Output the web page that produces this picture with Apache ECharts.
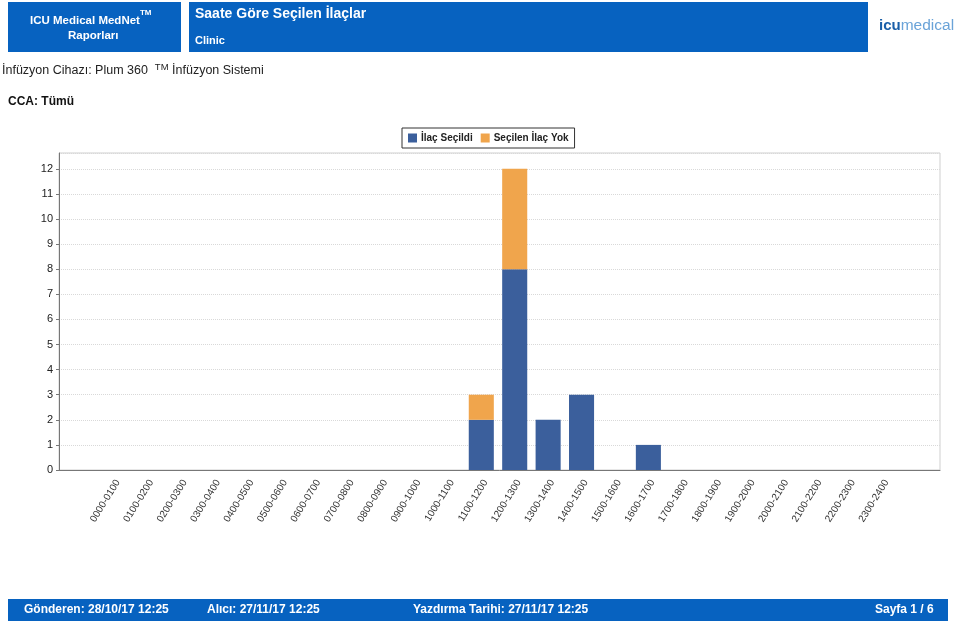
<!DOCTYPE html>
<html>
<head>
<meta charset="utf-8">
<title>Saate Göre Seçilen İlaçlar</title>
<script src="https://cdn.jsdelivr.net/npm/echarts@6/dist/echarts.min.js"></script>
<style>
  html, body { margin: 0; padding: 0; background: #ffffff; }
  #chart { width: 957px; height: 623px; }
</style>
</head>
<body>
<div id="chart"></div>
<script>
// Hourly slots of the report
const hours = [
  '0000-0100', '0100-0200', '0200-0300', '0300-0400', '0400-0500', '0500-0600',
  '0600-0700', '0700-0800', '0800-0900', '0900-1000', '1000-1100', '1100-1200',
  '1200-1300', '1300-1400', '1400-1500', '1500-1600', '1600-1700', '1700-1800',
  '1800-1900', '1900-2000', '2000-2100', '2100-2200', '2200-2300', '2300-2400'
];

// Infusions with a drug selected, per hour
const ilacSecildi = [0, 0, 0, 0, 0, 0, 0, 0, 0, 0, 0, 2, 8, 2, 3, 0, 1, 0, 0, 0, 0, 0, 0, 0];

// Infusions without a drug selected, per hour
const secilenIlacYok = [0, 0, 0, 0, 0, 0, 0, 0, 0, 0, 0, 1, 4, 0, 0, 0, 0, 0, 0, 0, 0, 0, 0, 0];

// Y axis tick values
const yTicks = [0, 1, 2, 3, 4, 5, 6, 7, 8, 9, 10, 11, 12];

const seriesNames = ['İlaç Seçildi', 'Seçilen İlaç Yok'];
const colors = ['#3b5f9c', '#f0a54c'];
const headerBlue = '#0762c0';

const yMax = 12.63;
const font = 'Arial, "Liberation Sans", sans-serif';

const chart = echarts.init(document.getElementById('chart'), null, { renderer: 'canvas' });

const option = {
  animation: false,
  backgroundColor: '#ffffff',
  color: colors,
  legend: {
    data: seriesNames,
    left: 402,
    top: 128,
    itemWidth: 9,
    itemHeight: 9,
    itemGap: 8,
    padding: [5, 6, 5, 6],
    borderColor: '#333333',
    borderWidth: 1,
    icon: 'rect',
    textStyle: { fontFamily: font, fontSize: 10, fontWeight: 'bold', color: '#222222', padding: [0, 0, 0, -1] }
  },
  grid: [
    // frame of the plot area
    { left: 59, right: 17, top: 153, bottom: 153, show: true, borderColor: '#cfcfcf', borderWidth: 1, backgroundColor: '#ffffff' },
    // band used by the hourly bars
    { left: 97, right: 58, top: 153, bottom: 153 }
  ],
  xAxis: [
    {
      type: 'category', gridIndex: 0, data: [''],
      axisLine: { show: true, lineStyle: { color: '#777777', width: 1 } },
      axisTick: { show: false }, axisLabel: { show: false }, splitLine: { show: false }
    },
    {
      type: 'category', gridIndex: 1, data: hours,
      axisLine: { show: false },
      axisTick: { show: false },
      axisLabel: {
        rotate: 58, interval: 0, margin: 8, align: 'right', verticalAlign: 'top',
        fontFamily: font, fontSize: 10, color: '#333333'
      }
    }
  ],
  yAxis: [
    {
      type: 'value', gridIndex: 0, min: 0, max: yMax, interval: 1,
      axisLine: { show: true, lineStyle: { color: '#777777', width: 1 } },
      axisTick: { show: true, length: 3, lineStyle: { color: '#777777' } },
      axisLabel: {
        showMaxLabel: false, margin: 6, fontFamily: font, fontSize: 11, color: '#222222',
        formatter: function (v) { return yTicks.indexOf(v) >= 0 ? String(v) : ''; }
      },
      splitLine: { show: true, lineStyle: { color: '#d9d9d9', type: 'dotted', width: 1 } }
    },
    {
      type: 'value', gridIndex: 1, min: 0, max: yMax, interval: 1, show: false,
      splitLine: { show: false }
    }
  ],
  series: [
    {
      name: seriesNames[0], type: 'bar', stack: 'toplam',
      xAxisIndex: 1, yAxisIndex: 1,
      barCategoryGap: '25%',
      data: ilacSecildi,
      itemStyle: { color: colors[0] }
    },
    {
      name: seriesNames[1], type: 'bar', stack: 'toplam',
      xAxisIndex: 1, yAxisIndex: 1,
      barCategoryGap: '25%',
      data: secilenIlacYok,
      itemStyle: { color: colors[1] }
    }
  ],
  graphic: [
    // header, left box
    { type: 'rect', left: 8, top: 2, shape: { width: 173, height: 50 }, style: { fill: headerBlue } },
    { type: 'text', left: 30, top: 9, style: { text: '{n|ICU Medical MedNet}{s|TM}', rich: {
      n: { fill: '#ffffff', font: 'bold 11.5px ' + font, verticalAlign: 'bottom', lineHeight: 18 },
      s: { fill: '#ffffff', font: 'bold 8px ' + font, verticalAlign: 'top', lineHeight: 18 }
    } } },
    { type: 'text', left: 68, top: 30, style: { text: 'Raporları', fill: '#ffffff', font: 'bold 11.5px ' + font } },
    // header, title box
    { type: 'rect', left: 189, top: 2, shape: { width: 679, height: 50 }, style: { fill: headerBlue } },
    { type: 'text', left: 195, top: 7, style: { text: 'Saate Göre Seçilen İlaçlar', fill: '#ffffff', font: 'bold 14px ' + font } },
    { type: 'text', left: 195, top: 35, style: { text: 'Clinic', fill: '#ffffff', font: 'bold 11px ' + font } },
    // logo
    { type: 'text', left: 879, top: 18, style: { text: '{a|icu}{b|medical}', rich: {
      a: { fill: '#1a5fa8', font: 'bold 15px ' + font },
      b: { fill: '#6aa3d8', font: '15.5px ' + font }
    } } },
    // device and CCA lines
    { type: 'text', left: 2, top: 62, style: { text: '{n|İnfüzyon Cihazı: Plum 360  }{s|TM}{n| İnfüzyon Sistemi}', rich: {
      n: { fill: '#222222', font: '12.5px ' + font, verticalAlign: 'bottom', lineHeight: 15 },
      s: { fill: '#222222', font: '9.5px ' + font, verticalAlign: 'top', lineHeight: 15, padding: [0, 0, 6, 0] }
    } } },
    { type: 'text', left: 8, top: 96, style: { text: 'CCA: Tümü', fill: '#111111', font: 'bold 12px ' + font } },
    // footer
    { type: 'rect', left: 8, top: 599, shape: { width: 940, height: 22 }, style: { fill: headerBlue } },
    { type: 'text', left: 24, top: 604, style: { text: 'Gönderen: 28/10/17 12:25', fill: '#ffffff', font: 'bold 12px ' + font } },
    { type: 'text', left: 207, top: 604, style: { text: 'Alıcı: 27/11/17 12:25', fill: '#ffffff', font: 'bold 12px ' + font } },
    { type: 'text', left: 413, top: 604, style: { text: 'Yazdırma Tarihi: 27/11/17 12:25', fill: '#ffffff', font: 'bold 12px ' + font } },
    { type: 'text', left: 875, top: 604, style: { text: 'Sayfa 1 / 6', fill: '#ffffff', font: 'bold 12px ' + font } }
  ]
};

chart.setOption(option);
</script>
</body>
</html>
